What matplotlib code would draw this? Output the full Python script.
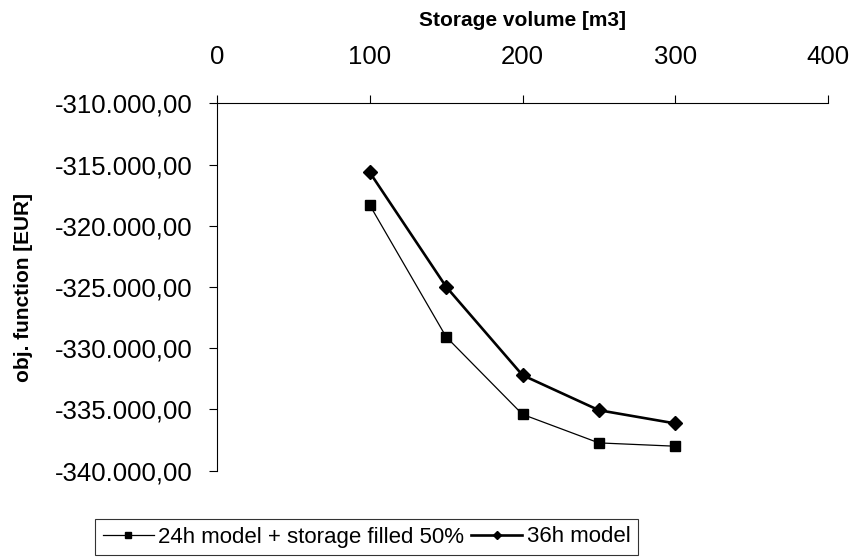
import matplotlib
matplotlib.use("Agg")
import matplotlib.pyplot as plt
from matplotlib.ticker import FuncFormatter, FixedLocator

plt.rcParams['font.family'] = ['Liberation Sans', 'DejaVu Sans']

volume = [100, 150, 200, 250, 300]
model_24h = [-318310, -329070, -335400, -337730, -338000]
model_36h = [-315640, -324980, -332200, -335060, -336140]
x_ticks = [0, 100, 200, 300, 400]
y_ticks = [-340000, -335000, -330000, -325000, -320000, -315000, -310000]

label_24 = "24h model + storage filled 50%"
label_36 = "36h model"
x_title = "Storage volume [m3]"
y_title = "obj. function [EUR]"

fig = plt.figure(figsize=(8.57, 5.6), dpi=100)
ax = fig.add_axes([217/857, 1-470.7/560, (828-217)/857, (470.7-103.3)/560])

ax.plot(volume, model_24h, color='black', lw=0.9, marker='s', ms=6.5, label=label_24)
ax.plot(volume, model_36h, color='black', lw=1.9, marker='D', ms=7, label=label_36)

ax.set_xlim(0, 400)
ax.set_ylim(-340000, -310000)
ax.xaxis.set_major_locator(FixedLocator(x_ticks))
ax.yaxis.set_major_locator(FixedLocator(y_ticks))

def fmt(v, pos):
    s = f"{v:,.2f}"
    return s.replace(",", "X").replace(".", ",").replace("X", ".")

ax.yaxis.set_major_formatter(FuncFormatter(fmt))
ax.xaxis.tick_top()
ax.xaxis.set_label_position('top')

for s in ['right', 'bottom']:
    ax.spines[s].set_visible(False)
for s in ['top', 'left']:
    ax.spines[s].set_linewidth(0.8)
    ax.spines[s].set_color('black')

ax.tick_params(axis='x', direction='out', length=5.5, width=0.8, labelsize=18.5, pad=19)
ax.tick_params(axis='y', direction='out', length=5.5, width=0.8, labelsize=18.5, pad=12)

ax.set_xlabel(x_title, fontsize=15, fontweight='bold', labelpad=14)
ax.set_ylabel(y_title, fontsize=15, fontweight='bold', labelpad=16)

leg = fig.legend(loc='center', bbox_to_anchor=(366.5/857, 1-537/560), ncol=2,
                 fontsize=16, frameon=True, fancybox=False, edgecolor='black',
                 markerscale=0.6, handlelength=2.3, handletextpad=0.2,
                 columnspacing=0.3, borderpad=0.35, borderaxespad=0)
leg.get_frame().set_linewidth(0.8)

fig.savefig("out.png", dpi=100)
